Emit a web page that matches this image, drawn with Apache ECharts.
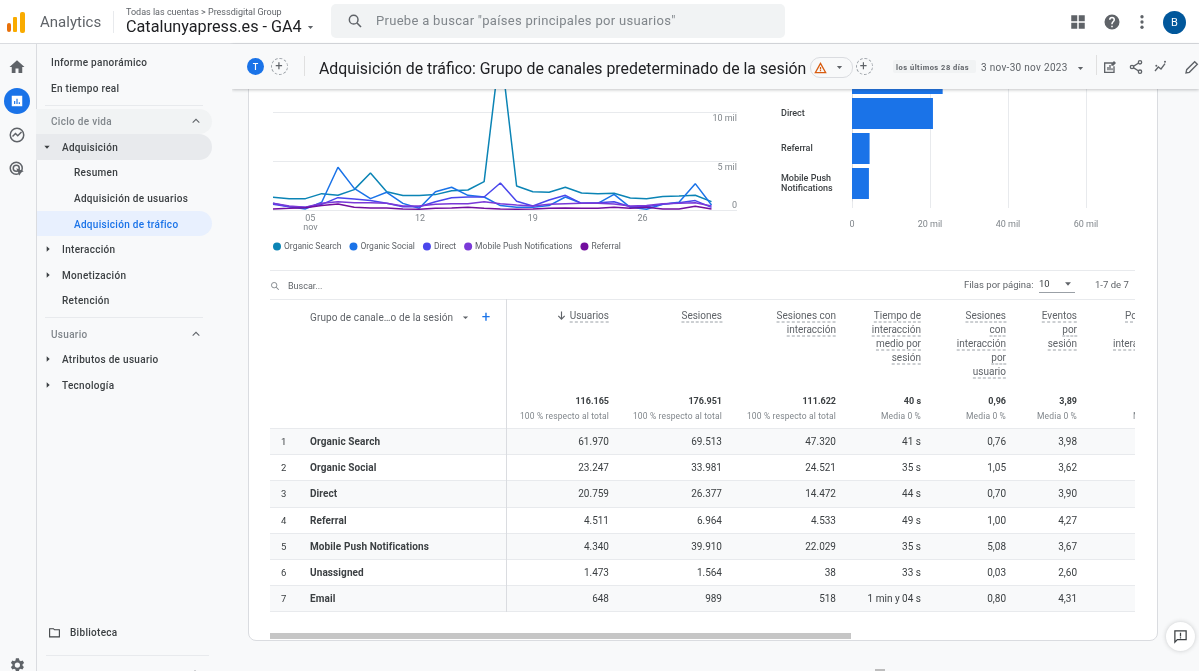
<!DOCTYPE html>
<html>
<head>
<meta charset="utf-8">
<title>Adquisición de tráfico</title>
<script src="https://cdn.jsdelivr.net/npm/echarts@6/dist/echarts.min.js"></script>
<style>
  html, body { margin: 0; padding: 0; width: 1199px; height: 671px; overflow: hidden; background: #f8f9fa; font-family: Roboto, sans-serif; }
  .box { position: absolute; }
  .t { position: absolute; white-space: nowrap; transform: translateY(-50%); line-height: 1.2; }
  .r { transform: translate(-100%, -50%); }
  .side { font-size: 10px; font-weight: 500; color: #3c4043; letter-spacing: .3px; }
  .dash { border-bottom: 1px dashed #9aa0a6; }
  #chart { position: absolute; left: 0; top: 0; width: 1199px; height: 262px; z-index: 1; }
  #card { position: absolute; left: 248px; top: 60px; width: 908px; height: 579px; background: #fff; border: 1px solid #dadce0; border-radius: 8px; box-sizing: content-box; }
  #chrome { position: absolute; left: 0; top: 0; width: 1199px; height: 671px; z-index: 2; pointer-events: none; }
  #table { position: absolute; left: 0; top: 0; width: 1135px; height: 671px; overflow: hidden; z-index: 2; }
  svg { position: absolute; }
</style>
</head>
<body>
<div id="card"></div>
<div id="chart"></div>
<div id="table"></div>
<div id="chrome"></div>
<script>
// eje temporal
const days = [3,4,5,6,7,8,9,10,11,12,13,14,15,16,17,18,19,20,21,22,23,24,25,26,27,28,29,30];
const tickPositions = [5.3, 12.05, 19, 25.75];
const tickLabels = ['05\nnov', '12', '19', '26'];

const organicSearch = [1330,1190,1190,1700,1530,2110,3810,1900,1500,1500,1600,2000,2070,2930,16700,2480,1900,1840,2350,1770,1700,1730,1260,1190,1400,1460,1530,880];
const organicSocial = [710,370,140,820,4390,2240,1190,1840,710,200,1900,2350,1530,1360,480,300,300,480,1360,710,710,1630,300,100,610,820,2720,540];
const direct = [610,370,310,610,1290,1150,990,710,370,370,880,1290,1360,1360,2790,920,440,1050,1530,710,780,880,370,370,610,780,990,300];
const mobilePush = [710,440,310,710,880,780,780,710,440,440,610,680,680,880,680,540,440,610,680,710,710,640,440,480,680,710,780,440];
const referral = [140,200,270,480,640,310,240,240,140,100,200,240,310,200,140,100,140,200,240,200,200,310,200,310,140,140,410,140];

const lineNames = ['Organic Search', 'Organic Social', 'Direct', 'Mobile Push Notifications', 'Referral'];
const lineColors = ['#0b84b5', '#1a73e8', '#4a46ec', '#7a39d8', '#720e9e'];

// barras y tabla
const barChannels = ['Organic Search', 'Organic Social', 'Direct', 'Referral', 'Mobile Push Notifications'];
const barValues = [61970, 23247, 20759, 4511, 4340];
const barTicks = [0, 20000, 40000, 60000];

const channels = ['Organic Search','Organic Social','Direct','Referral','Mobile Push Notifications','Unassigned','Email'];
const usuarios = ['61.970','23.247','20.759','4.511','4.340','1.473','648'];
const sesiones = ['69.513','33.981','26.377','6.964','39.910','1.564','989'];
const sesionesInter = ['47.320','24.521','14.472','4.533','22.029','38','518'];
const tiempoMedio = ['41 s','35 s','44 s','49 s','35 s','33 s','1 min y 04 s'];
const sesionesPorUsuario = ['0,76','1,05','0,70','1,00','5,08','0,03','0,80'];
const eventosPorSesion = ['3,98','3,62','3,90','4,27','3,67','2,60','4,31'];

const tableColumns = [
  { right: 609, head: ['Usuarios'], total: '116.165', sub: '100 % respecto al total', rows: usuarios },
  { right: 722, head: ['Sesiones'], total: '176.951', sub: '100 % respecto al total', rows: sesiones },
  { right: 836, head: ['Sesiones con', 'interacción'], total: '111.622', sub: '100 % respecto al total', rows: sesionesInter },
  { right: 921, head: ['Tiempo de', 'interacción', 'medio por', 'sesión'], total: '40 s', sub: 'Media 0 %', rows: tiempoMedio },
  { right: 1006, head: ['Sesiones', 'con', 'interacción', 'por', 'usuario'], total: '0,96', sub: 'Media 0 %', rows: sesionesPorUsuario },
  { right: 1077, head: ['Eventos', 'por', 'sesión'], total: '3,89', sub: 'Media 0 %', rows: eventosPorSesion }
];
const rowCenters = [441.5, 467.5, 493.5, 520.5, 546.5, 572.5, 598.5];
const rowLines = [428, 454, 480, 507, 533, 559, 585, 611];
const headLines = [316, 330, 344, 358, 372];

const chart = echarts.init(document.getElementById('chart'));
const lineData = [organicSearch, organicSocial, direct, mobilePush, referral];
const axisGrey = '#80868b';
const gridGrey = '#e8eaed';

chart.setOption({
  animation: false,
  textStyle: { fontFamily: 'Roboto' },
  legend: {
    left: 268, top: 237, icon: 'circle', itemWidth: 8, itemHeight: 8, itemGap: 8,
    data: lineNames,
    textStyle: { fontSize: 8.5, color: '#5f6368', padding: [0, 0, 0, -2] }
  },
  grid: [
    { left: 273, top: 14.3, width: 464, height: 196 },
    { left: 852, top: 26, width: 234, height: 182 },
    { left: 852, top: 26, width: 234, height: 175 }
  ],
  xAxis: [
    {
      gridIndex: 0, type: 'value', min: 3, max: 31.57, splitLine: { show: false },
      axisLine: { show: false }, axisTick: { show: false },
      axisLabel: {
        customValues: tickPositions, color: axisGrey, fontSize: 9, margin: 4, lineHeight: 9,
        formatter: (v) => tickLabels[tickPositions.indexOf(v)]
      }
    },
    {
      gridIndex: 1, type: 'value', min: 0, max: 60000, interval: 20000,
      axisLine: { show: false }, axisTick: { show: false },
      splitLine: { lineStyle: { color: gridGrey } },
      axisLabel: {
        customValues: barTicks, color: axisGrey, fontSize: 9, margin: 12,
        formatter: (v) => v === 0 ? '0' : (v / 1000) + ' mil'
      }
    },
    { gridIndex: 2, type: 'value', min: 0, max: 60000, show: false }
  ],
  yAxis: [
    {
      gridIndex: 0, type: 'value', position: 'right', min: 0, max: 20000, interval: 5000,
      axisLine: { show: false }, axisTick: { show: false },
      splitLine: { lineStyle: { color: gridGrey } },
      axisLabel: {
        inside: true, margin: 0, customValues: [0, 5000, 10000],
        formatter: (v) => v === 0 ? '{low|0}' : '{high|' + (v / 1000) + ' mil}',
        rich: {
          low: { fontSize: 9, color: axisGrey, padding: [0, 0, 10, 0] },
          high: { fontSize: 9, color: axisGrey, padding: [12, 0, 0, 0] }
        }
      }
    },
    { gridIndex: 1, type: 'value', show: false, min: 0, max: 1 },
    {
      gridIndex: 2, type: 'category', inverse: true, data: barChannels,
      axisLine: { lineStyle: { color: '#dadce0' } },
      axisTick: { alignWithLabel: true, length: 4, lineStyle: { color: gridGrey } },
      axisLabel: {
        align: 'left', margin: 71, width: 62, overflow: 'break', padding: [4, 0, 0, 0],
        fontSize: 9, fontWeight: 500, color: '#3c4043', lineHeight: 10
      }
    }
  ],
  series: [
    ...lineNames.map((name, i) => ({
      name, type: 'line', xAxisIndex: 0, yAxisIndex: 0, showSymbol: false,
      lineStyle: { width: 1.5, color: lineColors[i] }, itemStyle: { color: lineColors[i] },
      data: days.map((d, j) => [d, lineData[i][j]])
    })),
    {
      type: 'bar', xAxisIndex: 2, yAxisIndex: 2, barWidth: 31,
      itemStyle: { color: '#1a73e8' }, data: barValues
    }
  ]
});

// ---- resto de la pantalla (texto real, sin datos de la gráfica)
function add(parent, cls, css, text) {
  const el = document.createElement('div');
  el.className = cls;
  el.style.cssText = css;
  if (text !== undefined) el.textContent = text;
  parent.appendChild(el);
  return el;
}
function box(parent, x, y, w, h, bg, extra) {
  return add(parent, 'box', `left:${x}px;top:${y}px;width:${w}px;height:${h}px;background:${bg};${extra || ''}`);
}
function text(parent, x, y, str, css, right) {
  return add(parent, right ? 't r' : 't', `left:${x}px;top:${y}px;${css || ''}`, str);
}
function svg(parent, x, y, size, path, fill) {
  const holder = document.createElement('div');
  holder.innerHTML = `<svg style="left:${x}px;top:${y}px" width="${size}" height="${size}" viewBox="0 0 24 24" fill="${fill}">${path}</svg>`;
  parent.appendChild(holder.firstChild);
}
const searchIcon = (color) => `<circle cx="10" cy="10" r="6.5" fill="none" stroke="${color}" stroke-width="2.200"/><path d="M15 15l6 6" stroke="${color}" stroke-width="2.500"/>`;

const table = document.getElementById('table');
const chrome = document.getElementById('chrome');

// tabla
box(table, 270, 270, 865, 1, gridGrey);
box(table, 270, 299, 865, 1, gridGrey);
rowCenters.forEach((y, i) => {
  if (i % 2 === 0) box(table, 270, rowLines[i], 865, rowLines[i + 1] - rowLines[i], '#f8f9fa');
});
rowLines.forEach((y) => box(table, 270, y, 865, 1, gridGrey));
box(table, 506, 299, 1, 313, '#dadce0');

svg(table, 270, 281, 10, searchIcon('#80868b'), 'none');
text(table, 288, 286, 'Buscar...', 'font-size:9px;color:#5f6368');
text(table, 310, 317.5, 'Grupo de canale…o de la sesión', 'font-size:10px;letter-spacing:.1px;color:#5f6368');
svg(table, 461, 313, 9, '<path d="M5 9l7 7 7-7z"/>', '#5f6368');
text(table, 486, 316.5, '+', 'font-size:15px;color:#1a73e8;transform:translate(-50%,-50%)');
svg(table, 556, 310, 11, '<path d="M12 3v17M5 13l7 7 7-7" stroke="#5f6368" stroke-width="2.500" fill="none"/>', 'none');

tableColumns.forEach((col) => {
  col.head.forEach((line, i) => text(table, col.right, headLines[i], line, 'font-size:10px;color:#5f6368', true).classList.add('dash'));
  text(table, col.right, 400.5, col.total, 'font-size:9px;font-weight:700;color:#3c4043', true);
  text(table, col.right, 415.5, col.sub, 'font-size:8.5px;color:#80868b;letter-spacing:.15px', true);
  col.rows.forEach((v, i) => text(table, col.right, rowCenters[i], v, 'font-size:10px;color:#3c4043', true));
});
channels.forEach((name, i) => {
  text(table, 281, rowCenters[i], String(i + 1), 'font-size:9.5px;color:#3c4043');
  text(table, 310, rowCenters[i], name, 'font-size:10px;font-weight:700;letter-spacing:.1px;color:#3c4043');
});
// columna cortada por el borde de la tabla
text(table, 1125, 316, 'Porcentaje', 'font-size:10px;color:#5f6368').classList.add('dash');
text(table, 1113, 344, 'interacción', 'font-size:10px;color:#5f6368').classList.add('dash');
text(table, 1133, 415.5, 'Media 0 %', 'font-size:8.5px;color:#80868b');

text(table, 964, 285, 'Filas por página:', 'font-size:9.5px;color:#5f6368');
text(table, 1039, 283.5, '10', 'font-size:9.5px;color:#3c4043');
box(table, 1039, 292, 36, 1, '#9aa0a6');
svg(table, 1063, 279, 10, '<path d="M5 8l7 8 7-8z"/>', '#5f6368');
text(table, 1095, 285, '1-7 de 7', 'font-size:9.5px;color:#5f6368');

box(table, 270, 633, 581, 6, '#c6c6c6');

// cabecera superior
box(chrome, 0, 0, 1199, 43, '#fff');
box(chrome, 0, 43, 1199, 1, '#dadce0');
box(chrome, 7, 23, 4, 9, '#e8710a', 'border-radius:2px');
box(chrome, 13, 17, 4, 15, '#f9ab00', 'border-radius:1px');
box(chrome, 20, 12, 5, 21, '#f9ab00', 'border-radius:2px');
text(chrome, 40, 22, 'Analytics', 'font-size:15px;color:#5f6368');
box(chrome, 113, 11, 1, 22, '#e8eaed');
text(chrome, 126, 12, 'Todas las cuentas > Pressdigital Group', 'font-size:9px;color:#5f6368');
text(chrome, 126, 27, 'Catalunyapress.es - GA4', 'font-size:16.2px;color:#202124');
svg(chrome, 306, 23, 9, '<path d="M5 8l7 8 7-8z"/>', '#5f6368');
box(chrome, 331, 4, 454, 34, '#f1f3f4', 'border-radius:5px');
svg(chrome, 347, 13, 16, searchIcon('#5f6368'), 'none');
text(chrome, 376, 20.5, 'Pruebe a buscar "países principales por usuarios"', 'font-size:13px;letter-spacing:.3px;color:#80868b');
svg(chrome, 1069, 13, 18, '<path d="M3 3h8v8H3zM13 3h8v8h-8zM3 13h8v8H3zM13 13h8v8h-8z"/>', '#5f6368');
svg(chrome, 1103, 13, 18, '<path d="M12 2a10 10 0 1 0 0 20 10 10 0 0 0 0-20zm1 17h-2v-2h2zm2-7.7-.9.9c-.8.8-1.1 1.4-1.1 2.8h-2v-.5c0-1.1.4-2.1 1.2-2.8l1.2-1.3c.4-.3.6-.8.6-1.4a2 2 0 0 0-4 0H8a4 4 0 0 1 8 0c0 .9-.4 1.7-1 2.3z"/>', '#5f6368');
svg(chrome, 1133, 13, 18, '<circle cx="12" cy="5" r="2.2"/><circle cx="12" cy="12" r="2.2"/><circle cx="12" cy="19" r="2.2"/>', '#5f6368');
box(chrome, 1163, 11, 23, 23, '#01579b', 'border-radius:50%');
text(chrome, 1174.5, 22.5, 'B', 'font-size:11px;color:#fff;transform:translate(-50%,-50%)');

// barra del informe
box(chrome, 232, 44, 967, 45, '#f8f9fa', 'box-shadow:0 1px 3px rgba(60,64,67,.3)');
box(chrome, 247, 58, 17, 17, '#1a73e8', 'border-radius:50%');
text(chrome, 255.5, 66.5, 'T', 'font-size:9px;font-weight:500;color:#fff;transform:translate(-50%,-50%)');
box(chrome, 271, 58, 15, 15, 'transparent', 'border:1px dashed #9aa0a6;border-radius:50%');
text(chrome, 279, 66, '+', 'font-size:13px;color:#5f6368;transform:translate(-50%,-50%)');
box(chrome, 304, 56, 1, 20, '#e0e0e0');
text(chrome, 319, 67.5, 'Adquisición de tráfico: Grupo de canales predeterminado de la sesión', 'font-size:15.85px;color:#202124');
box(chrome, 810, 57, 41, 19, 'transparent', 'border:1px solid #dadce0;border-radius:10px');
svg(chrome, 813, 60, 15, '<path d="M12 3 2 21h20L12 3zm0 4.5L18.5 19h-13L12 7.500zM11 11v4h2v-4zm0 5v2h2v-2z"/>', '#d85c10');
svg(chrome, 835, 63, 9, '<path d="M5 8l7 8 7-8z"/>', '#5f6368');
box(chrome, 856, 58, 15, 15, 'transparent', 'border:1px dashed #9aa0a6;border-radius:50%');
text(chrome, 863.5, 66, '+', 'font-size:13px;color:#5f6368;transform:translate(-50%,-50%)');
box(chrome, 893, 60, 83, 13, '#f1f3f4', 'border-radius:2px');
text(chrome, 896, 66.5, 'los últimos 28 días', 'font-size:7.5px;font-weight:700;letter-spacing:.5px;color:#5f6368');
text(chrome, 981, 67.5, '3 nov-30 nov 2023', 'font-size:10px;letter-spacing:.3px;color:#5f6368');
svg(chrome, 1076, 64, 9, '<path d="M5 8l7 8 7-8z"/>', '#5f6368');
box(chrome, 1096, 55, 1, 20, '#e0e0e0');
svg(chrome, 1102, 59, 16, '<path d="M3 5h13v2H5v12h12v-8h2v10H3zM8 12h2v5H8zm3-3h2v8h-2zm3 5h2v3h-2zM18 3l3 3-4 4h-3V7z"/>', '#5f6368');
svg(chrome, 1128, 59, 16, '<circle cx="18" cy="5" r="2.500" fill="none" stroke="#5f6368" stroke-width="2"/><circle cx="6" cy="12" r="2.500" fill="none" stroke="#5f6368" stroke-width="2"/><circle cx="18" cy="19" r="2.500" fill="none" stroke="#5f6368" stroke-width="2"/><path d="M8 11l8-5M8 13l8 5" stroke="#5f6368" stroke-width="2"/>', 'none');
svg(chrome, 1153, 59, 16, '<path d="M3 18l5-6 4 3 6-8" stroke="#5f6368" stroke-width="2" fill="none"/><circle cx="18" cy="4" r="1.500" fill="#5f6368"/><circle cx="5" cy="10" r="1.500" fill="#5f6368"/>', 'none');
svg(chrome, 1184, 59, 16, '<path d="M3 21l1-5L16 4l4 4L8 20z" stroke="#5f6368" stroke-width="2" fill="none"/>', 'none');

// barra lateral
box(chrome, 0, 44, 37, 627, '#f8f9fa');
box(chrome, 36, 44, 1, 627, '#dadce0');
box(chrome, 37, 44, 195, 627, '#f8f9fa');
svg(chrome, 8, 58, 18, '<path d="M10 20v-6h4v6h5v-8h3L12 3 2 12h3v8z"/>', '#5f6368');
box(chrome, 4, 88, 26, 26, '#1a73e8', 'border-radius:50%');
svg(chrome, 10, 94, 14, '<path d="M3 3h18v18H3zM7 12v5h2v-5zm4-4v9h2V8zm4 6v3h2v-3z" fill-rule="evenodd"/>', '#fff');
svg(chrome, 8, 126, 18, '<circle cx="12" cy="12" r="9" fill="none" stroke="#5f6368" stroke-width="2"/><path d="M6 14l4-4 3 3 5-5" stroke="#5f6368" stroke-width="2" fill="none"/>', 'none');
svg(chrome, 8, 160, 18, '<circle cx="11" cy="11" r="8" fill="none" stroke="#5f6368" stroke-width="2"/><circle cx="11" cy="11" r="4" fill="none" stroke="#5f6368" stroke-width="2"/><path d="M11 11l10 4-4 1.500-1.500 4.500z" fill="#5f6368"/>', 'none');
svg(chrome, 8, 656, 18, '<path d="M19.400 13a7.500 7.500 0 0 0 0-2l2.100-1.600-2-3.500-2.500 1a7.500 7.500 0 0 0-1.700-1L14.500 3h-4L10 5.900a7.500 7.500 0 0 0-1.700 1l-2.500-1-2 3.500L5.900 11a7.500 7.500 0 0 0 0 2l-2.100 1.600 2 3.500 2.500-1c.5.400 1.100.700 1.700 1l.5 2.900h4l.5-2.900c.6-.3 1.200-.6 1.700-1l2.500 1 2-3.500zM12.500 15.500a3.500 3.500 0 1 1 0-7 3.500 3.500 0 0 1 0 7z"/>', '#5f6368');

box(chrome, 36, 109, 176, 25, '#f1f3f4', 'border-radius:0 13px 13px 0');
box(chrome, 36, 134, 176, 26, '#e8eaed', 'border-radius:0 13px 13px 0');
box(chrome, 37, 211, 175, 25, '#e8f0fe', 'border-radius:0 13px 13px 0');
box(chrome, 45, 105, 158, 1, '#e8eaed');
box(chrome, 45, 317, 158, 1, '#e8eaed');
box(chrome, 46, 655, 163, 1, '#e8eaed');

const sideItems = [
  [51, 63, 'Informe panorámico'], [51, 89, 'En tiempo real'], [62, 148, 'Adquisición'],
  [74, 173, 'Resumen'], [74, 199, 'Adquisición de usuarios'], [62, 250, 'Interacción'],
  [62, 276, 'Monetización'], [62, 301, 'Retención'], [62, 360, 'Atributos de usuario'],
  [62, 386, 'Tecnología'], [70, 633, 'Biblioteca']
];
sideItems.forEach(([x, y, s]) => text(chrome, x, y, s).classList.add('side'));
text(chrome, 74, 225, 'Adquisición de tráfico', 'color:#1a73e8').classList.add('side');
text(chrome, 51, 122, 'Ciclo de vida', 'color:#80868b').classList.add('side');
text(chrome, 51, 335, 'Usuario', 'color:#80868b').classList.add('side');
svg(chrome, 43, 143, 8, '<path d="M4 8l8 9 8-9z"/>', '#3c4043');
[249, 275, 359, 385].forEach((y) => svg(chrome, 44, y - 4, 8, '<path d="M8 4l9 8-9 8z"/>', '#3c4043'));
[121, 334].forEach((y) => svg(chrome, 191, y - 5, 10, '<path d="M4 16l8-8 8 8" stroke="#5f6368" stroke-width="2.500" fill="none"/>', 'none'));
[670].forEach((y) => svg(chrome, 191, y - 2, 8, '<path d="M4 16l8-8 8 8" stroke="#5f6368" stroke-width="2.500" fill="none"/>', 'none'));
svg(chrome, 48, 626, 13, '<path d="M3 5h7l2 2h9v13H3z" fill="none" stroke="#3c4043" stroke-width="2"/>', 'none');
box(chrome, 875, 669, 10, 2, '#bdbdbd');

// ayuda flotante
box(chrome, 1166, 622, 29, 29, '#fff', 'border-radius:50%;box-shadow:0 0 4px rgba(60,64,67,.25)');
svg(chrome, 1173, 629, 15, '<path d="M3 3h18v14H7l-4 4z" fill="none" stroke="#3c4043" stroke-width="2"/><path d="M11 6h2v6h-2zm0 7h2v2h-2z" fill="#3c4043"/>', 'none');
</script>
</body>
</html>
